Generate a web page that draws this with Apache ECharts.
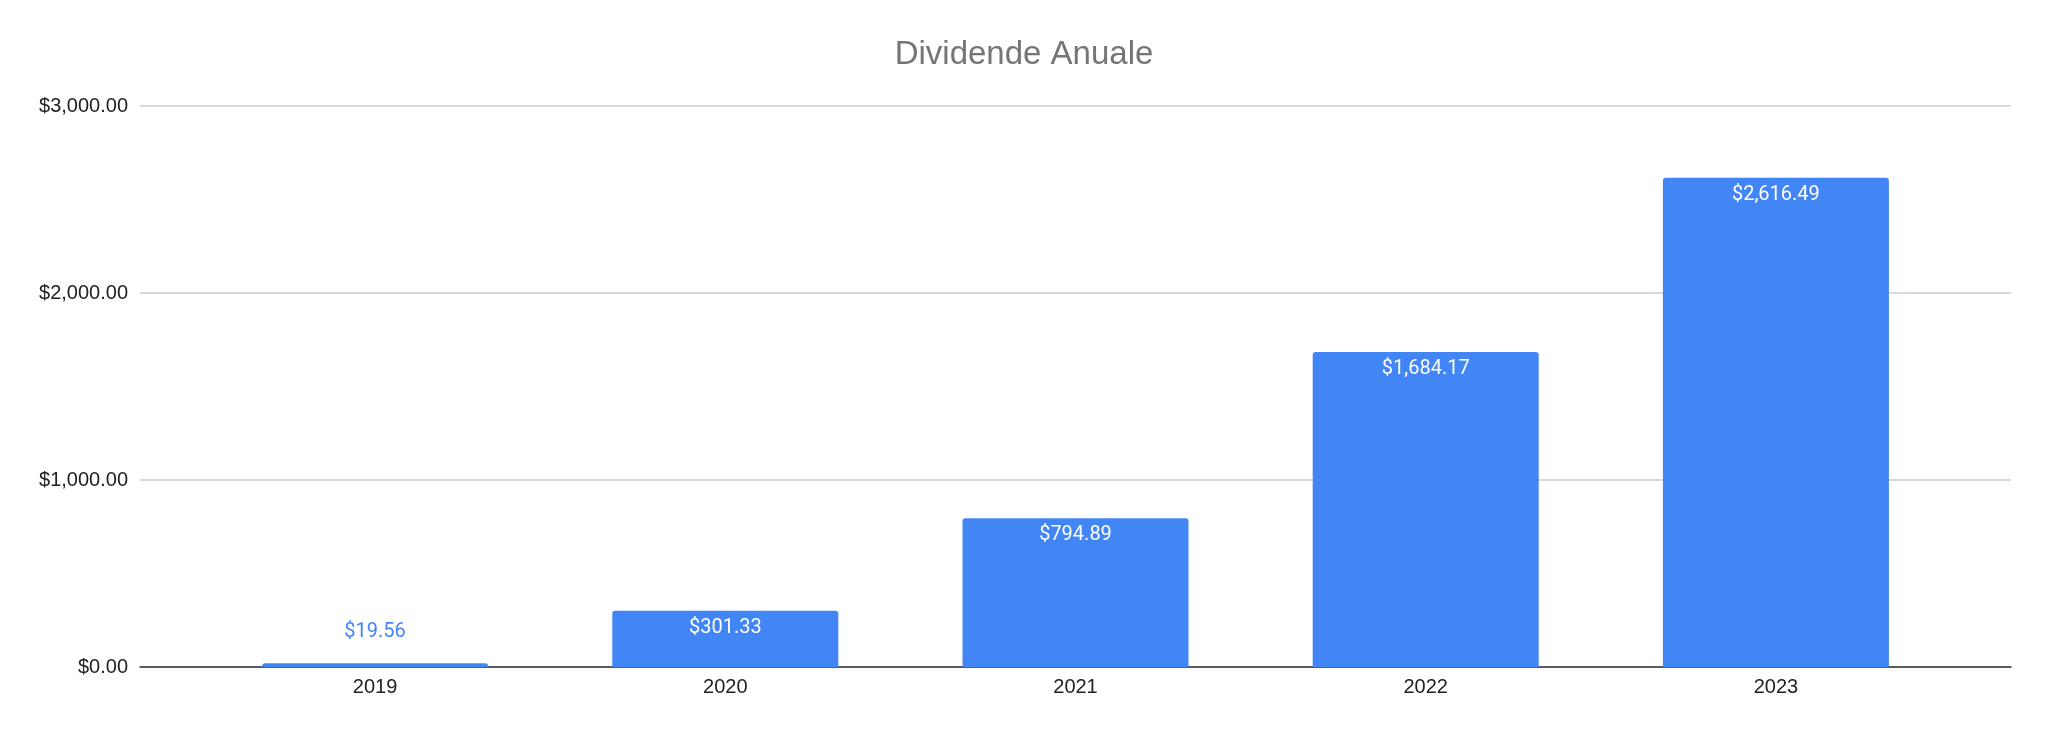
<!DOCTYPE html>
<html>
<head>
<meta charset="utf-8">
<title>Dividende Anuale</title>
<script src="https://cdn.jsdelivr.net/npm/echarts@6/dist/echarts.min.js"></script>
<style>
    html, body { margin: 0; padding: 0; background: #fff; }
    #main { width: 2048px; height: 734px; }
</style>
</head>
<body>
<div id="main"></div>
<script>
// date
var years = ['2019', '2020', '2021', '2022', '2023'];
var dividends = [19.56, 301.33, 794.89, 1684.17, 2616.49];
var yTicks = [0, 1000, 2000, 3000];

var barBlue = '#4285f4';
var axisFont = '"Liberation Sans", Arial, sans-serif';

function money(v) {
    return '$' + Number(v).toLocaleString('en-US', {minimumFractionDigits: 2, maximumFractionDigits: 2});
}

// eticheta iese deasupra barei daca bara e prea mica
var barData = dividends.map(function (v) {
    var small = v < 150;
    return {
        value: v,
        label: {
            position: small ? 'top' : 'insideTop',
            distance: small ? 21 : 7,
            color: small ? barBlue : '#ffffff'
        }
    };
});

var chart = echarts.init(document.getElementById('main'));

chart.setOption({
    animation: false,
    title: {
        text: 'Dividende Anuale',
        left: 'center',
        top: 33,
        textStyle: {
            fontFamily: axisFont,
            fontSize: 33,
            fontWeight: 'normal',
            color: '#757575'
        }
    },
    grid: [
        // fundal: linii de grila si axa
        {left: 140, right: 37, top: 106, bottom: 67},
        // barele
        {left: 200, right: 97, top: 106, bottom: 67}
    ],
    xAxis: [{
        gridIndex: 0,
        type: 'category',
        data: [''],
        axisLine: {lineStyle: {color: '#333333', width: 1.5}},
        axisTick: {show: false},
        axisLabel: {show: false}
    }, {
        gridIndex: 1,
        type: 'category',
        data: years,
        axisLine: {show: false},
        axisTick: {show: false},
        axisLabel: {
            fontFamily: axisFont,
            fontSize: 20,
            color: '#222222',
            margin: 10
        }
    }],
    yAxis: [{
        gridIndex: 0,
        type: 'value',
        min: yTicks[0],
        max: yTicks[yTicks.length - 1],
        interval: yTicks[1] - yTicks[0],
        axisLine: {show: false},
        axisTick: {show: false},
        axisLabel: {
            fontFamily: axisFont,
            fontSize: 20,
            color: '#222222',
            margin: 12,
            formatter: money
        },
        splitLine: {lineStyle: {color: '#cccccc', width: 1.5}}
    }, {
        gridIndex: 1,
        type: 'value',
        min: yTicks[0],
        max: yTicks[yTicks.length - 1],
        show: false
    }],
    series: [{
        type: 'bar',
        xAxisIndex: 1,
        yAxisIndex: 1,
        data: barData,
        barWidth: 226,
        itemStyle: {color: barBlue, borderRadius: [3, 3, 0, 0]},
        label: {
            show: true,
            fontFamily: 'Roboto, sans-serif',
            fontSize: 20,
            formatter: function (p) { return money(p.value); }
        }
    }]
});
</script>
</body>
</html>
